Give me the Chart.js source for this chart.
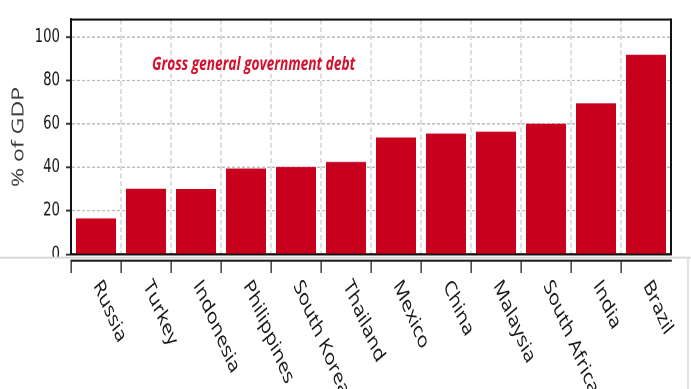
<!DOCTYPE html>
<html>
<head>
<meta charset="utf-8">
<script src="https://cdn.jsdelivr.net/npm/chart.js@4/dist/chart.umd.min.js"></script>
<style>
  html { overflow: hidden; }
  body { margin: 0; padding: 0; background: #fff; height: 389px; }
  /* the drawing is laid out on a short canvas and stretched to full height */
  #wrap { width: 691px; height: 278px; transform: scaleY(1.39928); transform-origin: 0 0; }
  canvas { display: block; }
</style>
</head>
<body>
<div id="wrap"><canvas id="chart" width="691" height="278"></canvas></div>
<script>
// Gross general government debt, % of GDP
const countries = ['Russia', 'Turkey', 'Indonesia', 'Philippines', 'South Korea', 'Thailand',
                   'Mexico', 'China', 'Malaysia', 'South Africa', 'India', 'Brazil'];
const debtPctGdp = [16.5, 30.2, 30.1, 39.5, 40.2, 42.5, 53.8, 55.6, 56.4, 60.1, 69.5, 91.8];
const yTickValues = [0, 10, 20, 30, 40, 50, 60, 70, 80, 90, 100];
const yTickLabels = ['0', '', '20', '', '40', '', '60', '', '80', '', '100'];
const chartTitle = 'Gross general government debt';
const yAxisTitle = '% of GDP';

const BAR_RED = '#C8001E';
const GRID_GREY = '#bcbcbc';

const decorations = {
  id: 'decorations',
  afterDraw(chart) {
    const { ctx, chartArea: a, scales } = chart;
    const x = scales.x, x2 = scales.x2, y = scales.y;
    ctx.save();

    // panel divider between plot and category axis
    const seamY = (a.bottom + x2.top) / 2;
    ctx.fillStyle = '#fff';
    ctx.fillRect(0, seamY, a.left - 1, x2.top - seamY - 0.5);
    ctx.strokeStyle = '#d6d6d6';
    ctx.lineWidth = 1.4;
    ctx.beginPath();
    ctx.moveTo(0, seamY);
    ctx.lineTo(chart.width, seamY);
    ctx.moveTo(a.right + 17, seamY);
    ctx.lineTo(a.right + 17, chart.height);
    ctx.stroke();

    // frame: top and right edges
    ctx.strokeStyle = '#111';
    ctx.lineWidth = 1.5;
    ctx.beginPath();
    ctx.moveTo(a.left, a.top);
    ctx.lineTo(a.right, a.top);
    ctx.stroke();
    ctx.lineWidth = 2;
    ctx.beginPath();
    ctx.moveTo(a.right, a.top - 0.75);
    ctx.lineTo(a.right, a.bottom + 0.75);
    ctx.stroke();

    // chart caption inside the plot
    ctx.fillStyle = '#D0102C';
    ctx.font = 'italic bold 13.7px "Open Sans", sans-serif';
    ctx.textAlign = 'left';
    ctx.textBaseline = 'alphabetic';
    ctx.fillText(chartTitle, a.left + 81, y.getPixelForValue(84.7));

    // slanted category labels
    ctx.fillStyle = '#141414';
    ctx.font = '16.3px "Open Sans", sans-serif';
    ctx.textAlign = 'left';
    ctx.textBaseline = 'middle';
    const angle = 59 * Math.PI / 180;
    countries.forEach((name, i) => {
      const cx = x.getPixelForValue(i);
      ctx.save();
      ctx.translate(cx + 1.1, x2.bottom + 6.7);
      ctx.rotate(angle);
      ctx.fillText(name, 0, 0);
      ctx.restore();
    });
    ctx.restore();
  }
};

new Chart(document.getElementById('chart'), {
  type: 'bar',
  data: {
    labels: countries,
    datasets: [{
      data: debtPctGdp,
      backgroundColor: BAR_RED,
      borderWidth: 0,
      barPercentage: 0.8,
      categoryPercentage: 1.0,
      xAxisID: 'x',
      yAxisID: 'y'
    }]
  },
  options: {
    responsive: false,
    devicePixelRatio: 2,
    animation: false,
    layout: { padding: { top: 9.5, right: 20, bottom: 83, left: 0 } },
    plugins: { legend: { display: false }, title: { display: false }, tooltip: { enabled: false } },
    scales: {
      x: {
        type: 'category',
        position: 'bottom',
        offset: true,
        grid: {
          display: true,
          offset: true,
          drawOnChartArea: true,
          color: GRID_GREY,
          lineWidth: 1,
          drawTicks: true,
          tickLength: 4.6,
          tickColor: 'transparent'
        },
        border: { display: true, color: '#111', width: 1.6, dash: [3.5, 2] },
        ticks: { display: false }
      },
      x2: {
        type: 'category',
        position: 'bottom',
        offset: true,
        grid: {
          display: true,
          offset: true,
          drawOnChartArea: false,
          drawTicks: true,
          tickLength: 8.6,
          lineWidth: 1.3,
          tickColor: ctx => ctx.type === 'tick' ? '#222' : 'transparent'
        },
        border: { display: true, color: '#222', width: 1.5 },
        ticks: { display: false }
      },
      y: {
        type: 'linear',
        position: 'left',
        min: 0,
        max: 108,
        afterBuildTicks: scale => { scale.ticks = yTickValues.map(v => ({ value: v })); },
        afterFit: scale => { scale.width = 71; },
        grid: {
          color: GRID_GREY,
          lineWidth: 1,
          drawTicks: true,
          tickLength: 5,
          tickColor: '#333',
          tickWidth: 1.4
        },
        border: { display: true, color: '#111', width: 2, dash: [3, 2] },
        ticks: {
          padding: 6,
          color: '#1a1a1a',
          font: { family: '"DejaVu Sans", sans-serif', size: 13.3 },
          callback: (v, i) => yTickLabels[i]
        },
        title: {
          display: true,
          text: yAxisTitle,
          color: '#3a3a3a',
          font: { family: '"Open Sans", sans-serif', size: 16.5 },
          padding: { top: 9, bottom: 0 }
        }
      }
    }
  },
  plugins: [decorations]
});
</script>
</body>
</html>
